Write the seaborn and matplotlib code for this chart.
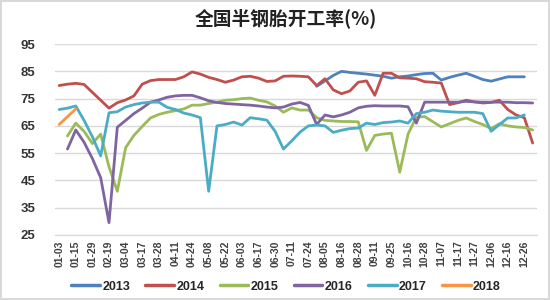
import numpy as np
import pandas as pd
import matplotlib
matplotlib.use("Agg")
import matplotlib.pyplot as plt
import seaborn as sns

# Week slots on the category axis (every other one carries a label)
N_WEEKS = 58
tick_labels = ["01-03", "01-15", "01-29", "02-19", "03-04", "03-17", "03-28",
               "04-11", "04-24", "05-08", "05-22", "06-03", "06-17", "06-30",
               "07-11", "07-24", "08-05", "08-16", "08-28", "09-11", "09-25",
               "10-16", "10-28", "11-07", "11-17", "11-27", "12-06", "12-16",
               "12-26"]

years = ["2013", "2014", "2015", "2016", "2017", "2018"]
colors = ["#4F81BD", "#C0504D", "#9BBB59", "#8064A2", "#4BACC6", "#F79646"]

nan = np.nan

# 2013 only starts in late July
rate_2013 = [nan] * 31 + [
    79.5, 81.5, 83.5, 85.0, 84.6, 84.3, 84.0, 83.6, 83.2, 82.5,
    83.0, 83.3, 83.8, 84.2, 84.3, 81.8, 82.8, 83.6, 84.3, 83.2,
    82.0, 81.4, 82.2, 83.0, 83.0, 83.0, nan]

rate_2014 = [
    79.8, 80.3, 80.6, 80.2, 77.3, 74.4, 71.5, 73.5, 74.5, 76.0,
    80.3, 81.6, 82.0, 82.0, 82.0, 83.0, 84.8, 84.0, 82.8, 82.0,
    81.0, 81.8, 83.0, 83.2, 82.5, 81.3, 81.5, 83.2, 83.3, 83.2,
    83.0, 79.8, 82.3, 78.2, 76.8, 77.8, 81.0, 81.5, 76.2, 84.3,
    84.3, 82.6, 82.5, 82.3, 81.2, 81.0, 80.7, 72.8, 73.5, 74.4,
    73.8, 73.4, 73.6, 74.4, 71.0, 69.0, 68.0, 58.7]

rate_2015 = [
    nan, 61.3, 66.0, 63.0, 58.5, 62.0, 50.0, 41.0, 57.0, 61.5,
    64.8, 67.9, 69.2, 70.0, 70.6, 71.2, 72.6, 72.6, 73.2, 73.7,
    74.4, 74.6, 75.0, 75.2, 74.4, 73.8, 72.3, 70.0, 71.6, 70.8,
    70.8, 68.0, 67.0, 66.8, 66.6, 66.6, 66.5, 56.0, 61.5, 62.0,
    62.3, 48.0, 62.0, 68.2, 68.4, 66.5, 64.6, 65.8, 67.0, 67.9,
    66.6, 65.5, 64.0, 65.8, 65.0, 64.6, 64.4, 63.5]

rate_2016 = [
    nan, 56.5, 63.5, 59.0, 53.0, 46.0, 29.5, 64.5, 67.0, 69.5,
    71.5, 73.7, 74.5, 75.5, 76.0, 76.2, 76.2, 75.3, 74.2, 73.6,
    73.2, 73.0, 72.8, 72.6, 72.3, 71.9, 71.6, 71.9, 73.0, 73.6,
    72.5, 65.5, 69.0, 68.3, 69.0, 70.0, 71.6, 72.2, 72.4, 72.3,
    72.3, 72.3, 72.0, 66.0, 73.7, 73.7, 73.7, 73.7, 73.7, 74.0,
    73.8, 73.7, 73.7, 73.7, 73.7, 73.5, 73.5, 73.4]

rate_2017 = [
    71.0, 71.5, 72.3, 67.0, 61.0, 54.0, 69.8, 70.2, 71.9, 72.8,
    73.4, 73.7, 73.7, 71.8, 71.0, 69.7, 69.0, 68.0, 41.0, 65.0,
    65.5, 66.4, 65.3, 68.0, 67.6, 67.1, 63.0, 56.5, 59.5, 62.7,
    65.0, 65.3, 65.0, 62.6, 63.4, 64.0, 64.2, 66.0, 65.5, 66.2,
    66.4, 66.8, 66.0, 69.5, 70.0, 70.8, 70.4, 70.2, 70.0, 70.0,
    70.0, 69.5, 63.0, 65.5, 67.9, 67.9, 69.0, nan]

# 2018: only the first weeks are in
rate_2018 = [65.5, nan, 71.2] + [nan] * (N_WEEKS - 3)

series = [rate_2013, rate_2014, rate_2015, rate_2016, rate_2017, rate_2018]


def build_long_frame() -> pd.DataFrame:
    """
    Stacks the yearly series into one long DataFrame (week, rate, year),
    dropping the empty weeks so every year is drawn as one joined line.
    """
    frames = []
    for year, values in zip(years, series):
        frames.append(pd.DataFrame({
            "week": np.arange(N_WEEKS),
            "rate": values,
            "year": year,
        }))
    return pd.concat(frames).dropna(subset=["rate"])


def plot_operating_rate(data: pd.DataFrame) -> None:
    """
    Line chart of the weekly semi-steel tyre operating rate, one line per year.
    """
    sns.set_style("white")
    plt.rcParams["font.family"] = ["Liberation Sans", "DejaVu Sans"]

    fig = plt.figure(figsize=(5.5, 3), dpi=100)
    fig.patch.set_edgecolor("#D9D9D9")
    fig.patch.set_linewidth(1.5)
    ax = fig.add_axes([0.1, 0.217, 0.876, 0.636])

    sns.lineplot(data=data, x="week", y="rate", hue="year",
                 palette=dict(zip(years, colors)), linewidth=2.0,
                 sort=True, legend=False, ax=ax)

    ax.set_xlim(-0.5, N_WEEKS - 0.5)
    ax.set_ylim(25, 95)
    ax.set_yticks(range(25, 96, 10))
    ax.set_xticks(range(0, N_WEEKS, 2))
    ax.set_xticklabels(tick_labels, rotation=90, fontsize=7.5,
                       fontweight="bold", color="#404040")
    for lab in ax.get_yticklabels():
        lab.set_fontsize(9.5)
        lab.set_fontweight("bold")
        lab.set_color("#333333")
    ax.set_xlabel("")
    ax.set_ylabel("")

    # Horizontal grid only, Excel style
    ax.grid(axis="y", color="#D9D9D9", linewidth=1)
    ax.set_axisbelow(True)
    sns.despine(ax=ax, left=True, top=True, right=True)
    ax.spines["bottom"].set_color("#D9D9D9")
    ax.tick_params(axis="x", length=2, color="#D9D9D9", pad=2)
    ax.tick_params(axis="y", length=0, pad=14)

    # Title
    fig.text(0.52, 0.94, "全国半钢胎开工率(%)", ha="center", va="center",
             fontsize=13.5, fontweight="bold", color="#222222",
             family=["Noto Sans CJK SC", "DejaVu Sans"])

    # Legend along the bottom
    handles = [plt.Line2D([], [], color=c, linewidth=2.5) for c in colors]
    fig.legend(handles, years, loc="center", bbox_to_anchor=(0.52, 0.045),
               ncol=6, frameon=False, handlelength=2.3, columnspacing=1.2,
               handletextpad=0.2, prop={"weight": "bold", "size": 9})

    fig.savefig("out.png", dpi=100, edgecolor=fig.get_edgecolor())


plot_operating_rate(build_long_frame())
